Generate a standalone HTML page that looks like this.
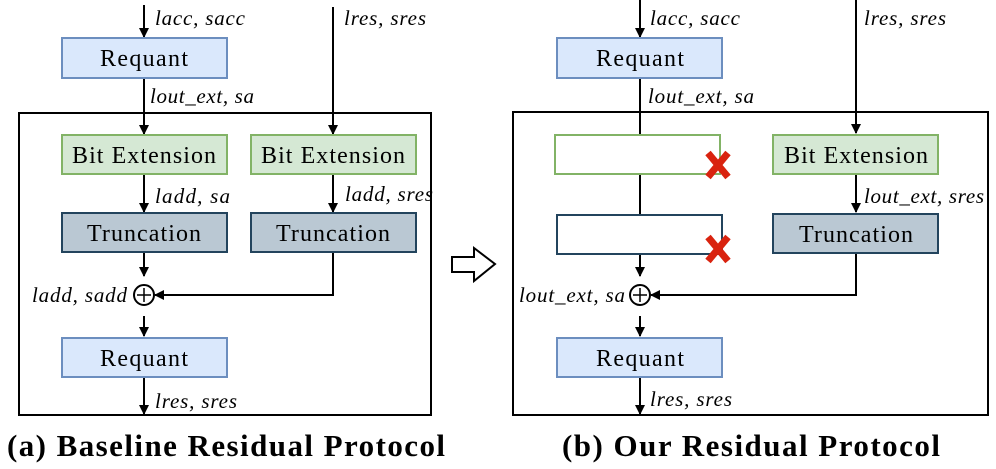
<!DOCTYPE html>
<html><head><meta charset="utf-8"><style>
html,body{margin:0;padding:0;background:#fff;}
svg{display:block;}
svg text{font-family:"Liberation Serif","Times New Roman",Times,serif;}
</style></head><body>
<svg width="996" height="469" viewBox="0 0 996 469" font-family="Liberation Serif, Times New Roman, serif">
<defs>
<marker id="a" markerWidth="10" markerHeight="10" refX="9" refY="5" orient="auto" markerUnits="userSpaceOnUse">
<path d="M0,0 L10,5 L0,10 z" fill="#000"/></marker>
</defs>
<g stroke="#000" stroke-width="2" fill="none">
<rect x="19" y="113" width="412" height="302"/>
<line x1="144" y1="5" x2="144" y2="37" marker-end="url(#a)"/>
<line x1="144" y1="78" x2="144" y2="134" marker-end="url(#a)"/>
<line x1="333" y1="7" x2="333" y2="134" marker-end="url(#a)"/>
<line x1="144" y1="174" x2="144" y2="212" marker-end="url(#a)"/>
<line x1="333" y1="174" x2="333" y2="212" marker-end="url(#a)"/>
<line x1="144" y1="252" x2="144" y2="276" marker-end="url(#a)"/>
<polyline points="333,252 333,295 155,295" marker-end="url(#a)"/>
<line x1="144" y1="316" x2="144" y2="336" marker-end="url(#a)"/>
<line x1="144" y1="377" x2="144" y2="414" marker-end="url(#a)"/>
<rect x="513" y="112" width="475" height="303"/>
<line x1="640" y1="0" x2="640" y2="37" marker-end="url(#a)"/>
<line x1="640" y1="78" x2="640" y2="135"/>
<line x1="640" y1="174" x2="640" y2="215"/>
<line x1="856" y1="0" x2="856" y2="133" marker-end="url(#a)"/>
<line x1="856" y1="174" x2="856" y2="212" marker-end="url(#a)"/>
<line x1="640" y1="254" x2="640" y2="276" marker-end="url(#a)"/>
<polyline points="856,253 856,295 651,295" marker-end="url(#a)"/>
<line x1="640" y1="316" x2="640" y2="336" marker-end="url(#a)"/>
<line x1="640" y1="377" x2="640" y2="414" marker-end="url(#a)"/>
</g>
<rect x="62" y="38" width="165" height="40" fill="#dae8fc" stroke="#6c8ebf" stroke-width="2"/>
<rect x="62" y="135" width="165" height="39" fill="#d5e8d4" stroke="#82b366" stroke-width="2"/>
<rect x="251" y="135" width="165" height="39" fill="#d5e8d4" stroke="#82b366" stroke-width="2"/>
<rect x="62" y="213" width="165" height="39" fill="#bac8d3" stroke="#23445d" stroke-width="2"/>
<rect x="251" y="213" width="165" height="39" fill="#bac8d3" stroke="#23445d" stroke-width="2"/>
<rect x="62" y="338" width="165" height="39" fill="#dae8fc" stroke="#6c8ebf" stroke-width="2"/>
<rect x="557" y="38" width="165" height="40" fill="#dae8fc" stroke="#6c8ebf" stroke-width="2"/>
<rect x="555" y="135" width="165" height="39" fill="#fff" stroke="#82b366" stroke-width="2"/>
<rect x="557" y="215" width="165" height="39" fill="#fff" stroke="#23445d" stroke-width="2"/>
<rect x="773" y="135" width="165" height="39" fill="#d5e8d4" stroke="#82b366" stroke-width="2"/>
<rect x="773" y="214" width="165" height="39" fill="#bac8d3" stroke="#23445d" stroke-width="2"/>
<rect x="557" y="338" width="165" height="39" fill="#dae8fc" stroke="#6c8ebf" stroke-width="2"/>
<g font-size="24" text-anchor="middle" fill="#000">
<text x="144" y="66" textLength="88">Requant</text>
<text x="144" y="163" textLength="144">Bit Extension</text>
<text x="333" y="163" textLength="144">Bit Extension</text>
<text x="144" y="241" textLength="114">Truncation</text>
<text x="333" y="241" textLength="114">Truncation</text>
<text x="144" y="366" textLength="88">Requant</text>
<text x="640" y="66" textLength="88">Requant</text>
<text x="856" y="163" textLength="144">Bit Extension</text>
<text x="856" y="242" textLength="114">Truncation</text>
<text x="640" y="366" textLength="88">Requant</text>
</g>
<circle cx="144" cy="295" r="10" fill="#fff" stroke="#000" stroke-width="2"/>
<path d="M137,295 H151 M144,288 V302" stroke="#000" stroke-width="1.5"/>
<path d="M452,257 H474 V248 L495,264 L474,281 V272 H452 Z" fill="#fff" stroke="#000" stroke-width="2"/>
<g stroke="#d9230f" stroke-width="7">
<path d="M708,153 L728,177 M728,153 L708,177"/>
<path d="M708,237 L728,261 M728,237 L708,261"/>
</g>
<circle cx="640" cy="295" r="10" fill="#fff" stroke="#000" stroke-width="2"/>
<path d="M633,295 H647 M640,288 V302" stroke="#000" stroke-width="1.5"/>
<g font-size="21" font-style="italic" fill="#000">
<text x="155" y="25" textLength="90">lacc, sacc</text>
<text x="344" y="25" textLength="82">lres, sres</text>
<text x="150" y="103" textLength="104">lout_ext, sa</text>
<text x="155" y="203" textLength="75">ladd, sa</text>
<text x="345" y="201" textLength="88">ladd, sres</text>
<text x="32" y="302" textLength="95">ladd, sadd</text>
<text x="155" y="408" textLength="82">lres, sres</text>
<text x="650" y="25" textLength="90">lacc, sacc</text>
<text x="864" y="25" textLength="82">lres, sres</text>
<text x="648" y="103" textLength="106">lout_ext, sa</text>
<text x="864" y="203" textLength="120">lout_ext, sres</text>
<text x="519" y="302" textLength="106">lout_ext, sa</text>
<text x="650" y="406" textLength="82">lres, sres</text>
</g>
<g font-size="31" font-weight="bold" fill="#000">
<text x="7" y="456" textLength="438">(a) Baseline Residual Protocol</text>
<text x="562" y="456" textLength="378">(b) Our Residual Protocol</text>
</g>
</svg>
</body></html>
